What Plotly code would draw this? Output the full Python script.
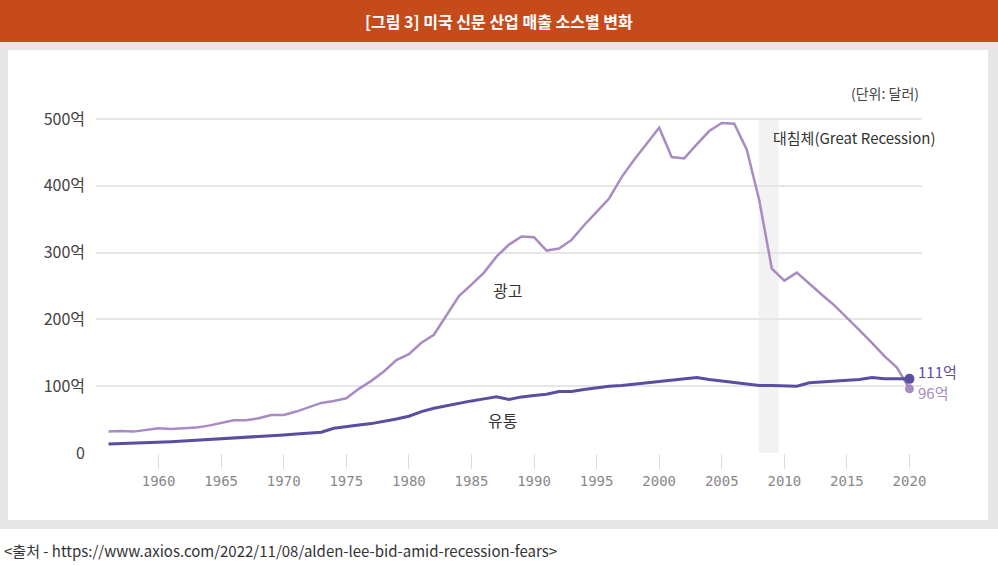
import plotly.graph_objects as go

years = list(range(1956, 2021))
ad = [32, 33, 32, 35, 37, 36, 37, 38, 41, 45,
      49, 49, 52, 57, 57, 62, 69, 75, 78, 82,
      96, 108, 122, 139, 148, 165, 177, 206, 235, 252,
      270, 294, 312, 324, 323, 303, 306, 319, 341, 361,
      381, 413, 439, 463, 487, 443, 441, 462, 482, 494,
      493, 454, 378, 276, 258, 270, 253, 237, 221, 203,
      184, 165, 145, 128, 96]
circ = [13.5, 14, 14.5, 15.5, 16.5, 17, 18, 19, 20, 21,
        22, 23, 24, 25.5, 27, 28.5, 29.5, 31, 37, 40,
        42, 44, 47, 51, 55, 62, 67, 71, 74, 78,
        81, 84, 80, 84, 86, 88, 92, 92, 95, 98,
        100, 101, 103, 105, 106, 108, 111, 113, 110, 108,
        106, 103, 101, 101, 100, 100, 105, 106, 108, 109,
        110, 113, 111, 111, 111]

y_ticks = [0, 100, 200, 300, 400, 500]
y_labels = ["0", "100억", "200억", "300억", "400억", "500억"]
x_ticks = [1960, 1965, 1970, 1975, 1980, 1985, 1990, 1995, 2000, 2005, 2010, 2015, 2020]
recession = [2007.95, 2009.55]

AD_COLOR = "#a98bc4"
CIRC_COLOR = "#5a4e9f"
KR = "Noto Sans CJK KR, Noto Sans, sans-serif"

# plot area in pixels: x 96..922, y 117..453 (y range 0..503 so the 500 grid sits at 119)
L, R, T, B = 96, 922, 117, 453


def px(x):
    return (x - L) / (R - L)


def py(y):
    return (B - y) / (B - T)


fig = go.Figure()
fig.add_trace(go.Scatter(x=years, y=ad, mode="lines",
                         line=dict(color=AD_COLOR, width=2.5), showlegend=False))
fig.add_trace(go.Scatter(x=years, y=circ, mode="lines",
                         line=dict(color=CIRC_COLOR, width=3), showlegend=False))
fig.add_trace(go.Scatter(x=[years[-1]], y=[ad[-1]], mode="markers",
                         marker=dict(color=AD_COLOR, size=9), showlegend=False))
fig.add_trace(go.Scatter(x=[years[-1]], y=[circ[-1]], mode="markers",
                         marker=dict(color=CIRC_COLOR, size=10), showlegend=False))

shapes = [
    # gray frame, white panel, title bar
    dict(type="rect", xref="paper", yref="paper", x0=px(0), x1=px(998), y0=py(529), y1=py(42),
         fillcolor="#e6e6e6", line_width=0, layer="below"),
    dict(type="rect", xref="paper", yref="paper", x0=px(8), x1=px(988), y0=py(520), y1=py(50),
         fillcolor="white", line_width=0, layer="below"),
    dict(type="rect", xref="paper", yref="paper", x0=px(0), x1=px(998), y0=py(42), y1=py(0),
         fillcolor="#c64b1b", line_width=0, layer="below"),
    dict(type="rect", xref="x", yref="y", x0=recession[0], x1=recession[1], y0=0, y1=500,
         fillcolor="#f2f2f2", line_width=0, layer="below"),
]

annotations = [
    dict(text="<b>[그림 3] 미국 신문 산업 매출 소스별 변화</b>", xref="paper", yref="paper",
         x=px(499), y=py(21), xanchor="center", yanchor="middle", showarrow=False,
         font=dict(family=KR, size=16, color="white")),
    dict(text="(단위: 달러)", xref="paper", yref="paper", x=px(921), y=py(93),
         xanchor="right", yanchor="middle", showarrow=False,
         font=dict(family=KR, size=14, color="#444")),
    dict(text="대침체(Great Recession)", xref="x", yref="paper", x=2008.9, y=py(137),
         xanchor="left", yanchor="middle", showarrow=False,
         font=dict(family=KR, size=15, color="#333")),
    dict(text="광고", x=1987.9, y=244, showarrow=False,
         font=dict(family=KR, size=16, color="#333")),
    dict(text="유통", x=1987.5, y=49, showarrow=False,
         font=dict(family=KR, size=16, color="#333")),
    dict(text="111억", x=years[-1], y=circ[-1], xanchor="left", yanchor="middle",
         xshift=7, yshift=7, showarrow=False, font=dict(family=KR, size=15, color=CIRC_COLOR)),
    dict(text="96억", x=years[-1], y=ad[-1], xanchor="left", yanchor="middle",
         xshift=7, yshift=-4, showarrow=False, font=dict(family=KR, size=15, color=AD_COLOR)),
    dict(text="<출처 - https://www.axios.com/2022/11/08/alden-lee-bid-amid-recession-fears>",
         xref="paper", yref="paper", x=px(2), y=py(550), xanchor="left", yanchor="middle",
         showarrow=False, font=dict(family=KR, size=15, color="#333")),
]

fig.update_layout(
    width=998, height=566,
    margin=dict(l=L, r=998 - R, t=T, b=566 - B, pad=0),
    paper_bgcolor="white", plot_bgcolor="white",
    shapes=shapes, annotations=annotations,
    font=dict(family=KR),
)
fig.update_xaxes(range=[1955, 2021], tickvals=x_ticks, showgrid=False, zeroline=False,
                 ticks="outside", ticklen=15, tickcolor="#dddddd", tickwidth=1,
                 tickfont=dict(family="DejaVu Sans Mono", size=14, color="#888"))
fig.update_yaxes(range=[0, 503], tickvals=y_ticks, ticktext=y_labels, showgrid=True,
                 gridcolor="#e6e6e6", gridwidth=1.5, zeroline=False, ticklabelstandoff=10,
                 tickfont=dict(family=KR, size=16, color="#444"))

fig.write_html("out.html", config={"displayModeBar": False},
               post_script="document.body.style.margin='0';")
